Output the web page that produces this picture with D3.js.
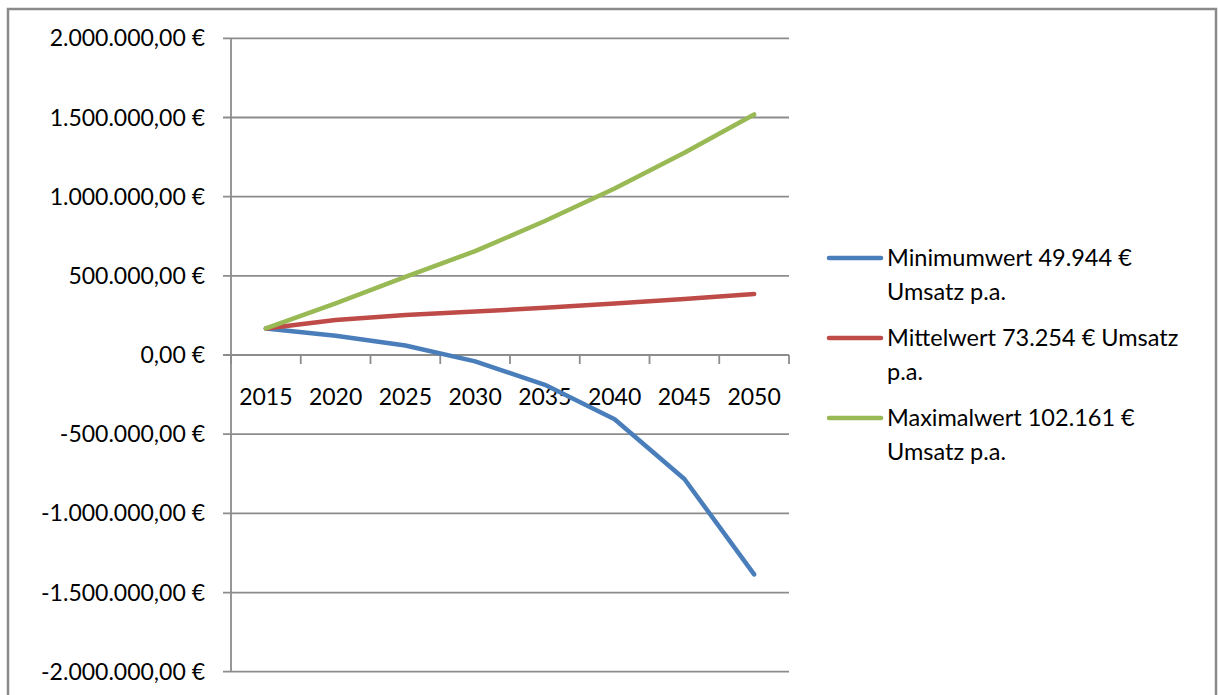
<!DOCTYPE html>
<html>
<head>
<meta charset="utf-8" />
<title>Umsatz Szenarien</title>
<script src="https://d3js.org/d3.v7.js"></script>
<style>
  body { margin: 0; background: #fff; }
  text { font-family: Lato, "Open Sans", sans-serif; fill: #000; }
</style>
</head>
<body>
<svg id="chart" width="1218" height="695"></svg>
<script>

// Data
var years = ["2015", "2020", "2025", "2030", "2035", "2040", "2045", "2050"];
var minValues = [168000, 122000, 60000, -40000, -188000, -406000, -783000, -1385000];
var midValues = [168000, 221000, 252000, 274000, 299000, 325000, 353000, 385000];
var maxValues = [168000, 326000, 494000, 656000, 846000, 1052000, 1277000, 1519000];
var seriesNames = [
  ["Minimumwert 49.944 €", "Umsatz p.a."],
  ["Mittelwert 73.254 € Umsatz", "p.a."],
  ["Maximalwert 102.161 €", "Umsatz p.a."]
];
var seriesColors = ["#4a7ebb", "#be4b48", "#98b954"];
var yTicks = [2000000, 1500000, 1000000, 500000, 0, -500000, -1000000, -1500000, -2000000];

var svg = d3.select("#chart");

// outer frame
svg.append("rect")
  .attr("x", 8).attr("y", 9)
  .attr("width", 1208).attr("height", 700)
  .attr("fill", "none")
  .attr("stroke", "#8a8a8a")
  .attr("stroke-width", 2.5);

var plotLeft = 231, plotRight = 789, plotTop = 38.3, plotBottom = 671.7;

var x = d3.scaleBand().domain(years).range([plotLeft, plotRight]);
var y = d3.scaleLinear().domain([-2000000, 2000000]).range([plotBottom, plotTop]);

var de = d3.formatLocale({ decimal: ",", thousands: ".", grouping: [3], currency: ["", " €"], minus: "-" });
var fmt = de.format(",.2f");

// gridlines
svg.append("g")
  .selectAll("line")
  .data(yTicks)
  .enter()
  .append("line")
  .attr("x1", plotLeft - 8).attr("x2", plotRight)
  .attr("y1", function(d) { return y(d); })
  .attr("y2", function(d) { return y(d); })
  .attr("stroke", "#8c8c8c")
  .attr("stroke-width", 1.8);

// y axis line
svg.append("line")
  .attr("x1", plotLeft).attr("x2", plotLeft)
  .attr("y1", plotTop).attr("y2", plotBottom)
  .attr("stroke", "#8c8c8c")
  .attr("stroke-width", 1.8);

// y labels
svg.append("g")
  .selectAll("text")
  .data(yTicks)
  .enter()
  .append("text")
  .attr("x", 205)
  .attr("y", function(d) { return y(d); })
  .attr("dy", "0.35em")
  .attr("text-anchor", "end")
  .style("font-size", "23px")
  .text(function(d) { return fmt(d) + " €"; });

// x axis ticks (category boundaries)
var bounds = years.map(function(d) { return x(d); }).concat([plotRight]);
svg.append("g")
  .selectAll("line")
  .data(bounds)
  .enter()
  .append("line")
  .attr("x1", function(d) { return d; })
  .attr("x2", function(d) { return d; })
  .attr("y1", y(0)).attr("y2", y(0) + 9)
  .attr("stroke", "#8c8c8c")
  .attr("stroke-width", 1.8);

// x labels
svg.append("g")
  .selectAll("text")
  .data(years)
  .enter()
  .append("text")
  .attr("x", function(d) { return x(d) + x.bandwidth() / 2; })
  .attr("y", 397)
  .attr("dy", "0.35em")
  .attr("text-anchor", "middle")
  .style("font-size", "23px")
  .text(function(d) { return d; });

// lines
var allSeries = [minValues, midValues, maxValues];
var line = d3.line()
  .x(function(d, i) { return x(years[i]) + x.bandwidth() / 2; })
  .y(function(d) { return y(d); });

svg.append("g")
  .selectAll("path")
  .data(allSeries)
  .enter()
  .append("path")
  .attr("d", function(d) { return line(d); })
  .attr("fill", "none")
  .attr("stroke", function(d, i) { return seriesColors[i]; })
  .attr("stroke-width", 4.5)
  .attr("stroke-linejoin", "round")
  .attr("stroke-linecap", "round");

// legend
var legendY = [258, 338, 418];
var legend = svg.append("g")
  .selectAll("g")
  .data(seriesNames)
  .enter()
  .append("g")
  .attr("transform", function(d, i) { return "translate(0," + legendY[i] + ")"; });

legend.append("line")
  .attr("x1", 829).attr("x2", 881)
  .attr("y1", 0).attr("y2", 0)
  .attr("stroke", function(d, i) { return seriesColors[i]; })
  .attr("stroke-width", 4.5)
  .attr("stroke-linecap", "round");

legend.append("text")
  .attr("x", 887)
  .attr("y", 0)
  .attr("dy", "0.35em")
  .style("font-size", "23.5px")
  .text(function(d) { return d[0]; });

legend.append("text")
  .attr("x", 887)
  .attr("y", 34)
  .attr("dy", "0.35em")
  .style("font-size", "23.5px")
  .text(function(d) { return d[1]; });

</script>
</body>
</html>
